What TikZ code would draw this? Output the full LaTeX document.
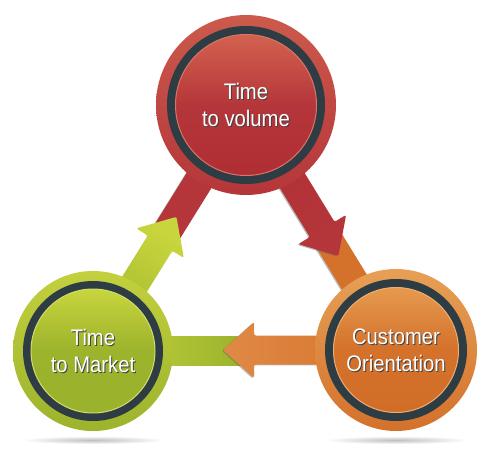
\documentclass[tikz,border=0pt]{standalone}
\usepackage{fontspec}
\setmainfont[FakeStretch=0.9]{Liberation Sans}
\usetikzlibrary{positioning, calc, backgrounds}

\definecolor{ringgray}{HTML}{2E3C44}
\definecolor{redA}{HTML}{CC5A4C}
\definecolor{redB}{HTML}{B5363A}
\definecolor{redC}{HTML}{D2624F}
\definecolor{redD}{HTML}{AF2E33}
\definecolor{redrim}{HTML}{DB7466}
\definecolor{orA}{HTML}{E7A056}
\definecolor{orB}{HTML}{D4712B}
\definecolor{orC}{HTML}{E69A4F}
\definecolor{orD}{HTML}{D16D27}
\definecolor{orE}{HTML}{E08A45}
\definecolor{orrim}{HTML}{EDAE70}
\definecolor{grA}{HTML}{C3D03E}
\definecolor{grB}{HTML}{9CB32C}
\definecolor{grC}{HTML}{C8D53D}
\definecolor{grD}{HTML}{9AB22C}
\definecolor{grrim}{HTML}{D3DD6A}

\begin{document}
\begin{tikzpicture}[x=1pt, y=1pt,
    disc/.style={circle, inner sep=0pt, minimum size=#1},
    txt/.style={align=center, font=\fontsize{22.5}{27}\selectfont, text=white},
    txtshadow/.style={txt, text=black!75},
    arrowshadow/.style={preaction={fill=black!60, opacity=.45,
        transform canvas={shift={(-1.2pt,-0.8pt)}}}}]
    \useasboundingbox (0,0) rectangle (487,459);

    % shadows on the ground
    \shade [inner color=black!25, outer color=white] (93,19) ellipse (72 and 4);%
    \shade [inner color=black!25, outer color=white] (396,19) ellipse (72 and 4);%

    % Time to volume
    \node [disc=180pt, top color=redA, bottom color=redB] (TV) at (246,354) {};%
    \fill [ringgray] (TV) circle (79);%
    \path [draw=redrim, line width=1pt, top color=redC, bottom color=redD,
    middle color=redB] (TV) circle (70.5);%
    \node [txtshadow] (TV_shadow) at ([xshift=1pt, yshift=-1pt]TV) {Time\\to volume};%
    \node [txt] (TV_text) at (TV) {Time\\to volume};%

    % Time to Market
    \node [disc=160pt, top color=grA, bottom color=grB] (TM) at (93,108) {};%
    \fill [ringgray] (TM) circle (70);%
    \path [draw=grrim, line width=1pt, top color=grC, bottom color=grD,
    middle color=grB] (TM) circle (62);%
    \node [txtshadow] (TM_shadow) at ([xshift=1pt, yshift=-1pt]TM) {Time\\to Market};%
    \node [txt] (TM_text) at (TM) {Time\\to Market};%

    % Customer Orientation
    \node [disc=162pt, top color=orA, bottom color=orB] (CO) at (396,109) {};%
    \fill [ringgray] (CO) circle (71);%
    \path [draw=orrim, line width=1pt, top color=orC, bottom color=orD,
    middle color=orB] (CO) circle (62.5);%
    \node [txtshadow] (CO_shadow) at ([xshift=1pt, yshift=-1pt]CO) {Customer\\Orientation};%
    \node [txt] (CO_text) at (CO) {Customer\\Orientation};%

    % arrows
    \begin{scope}[on background layer]
      % -- shafts of the target colour
      \path [shift={(TV)}, rotate=238.12, arrowshadow, fill=redB] (0,-14.5)
      rectangle (155,14.5);%
      \path [shift={(CO)}, rotate=121.48, arrowshadow, fill=orB] (0,-14.5)
      rectangle (130,14.5);%
      \path [shift={(TM)}, left color=grC, right color=grD] (0,-14.5) rectangle
      (152,14.5);%
      % -- arrows of the source colour
      \path [shift={(TM)}, rotate=58.12, rounded corners=2pt, top color=grC,
      bottom color=grB, shading angle=-32] (0,-14.5) -- (127,-14.5) -- (127,-28)
      -- (158,0) -- (127,28) -- (127,14.5) -- (0,14.5) -- cycle;%
      \path [shift={(TV)}, rotate=-58.52, rounded corners=2pt, arrowshadow,
      top color=redB, bottom color=redD, shading angle=-148] (0,-14.5) --
      (146,-14.5) -- (146,-28) -- (177,0) -- (146,28) -- (146,14.5) --
      (0,14.5) -- cycle;%
      \path [shift={(CO)}, rotate=180, rounded corners=2pt, arrowshadow,
      left color=orE, right color=orB] (0,-14.5) -- (142,-14.5) -- (142,-28)
      -- (173,0) -- (142,28) -- (142,14.5) -- (0,14.5) -- cycle;%
    \end{scope}
\end{tikzpicture}
\end{document}
